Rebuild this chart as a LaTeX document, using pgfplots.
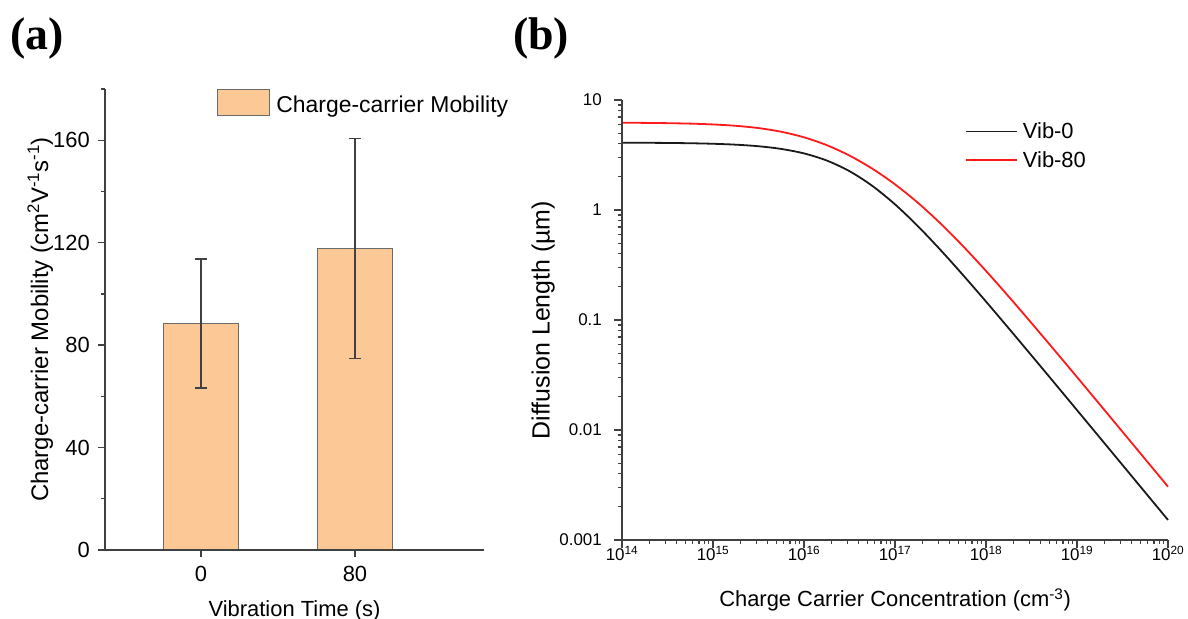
\documentclass[border=0pt]{standalone}
\usepackage{fontspec}
\setmainfont{Liberation Sans}
\newfontfamily\panelfont{Liberation Serif}
\usepackage{pgfplots}
\usepackage{pgfplotstable}
\pgfplotsset{compat=1.18}
\definecolor{barfill}{HTML}{FBC896}
\definecolor{baredge}{HTML}{6A6A6A}
\definecolor{axgray}{HTML}{404040}
\definecolor{curveblack}{HTML}{1A1A1A}
\definecolor{curvered}{HTML}{FF1A1A}
\newcommand{\fs}[1]{\fontsize{#1}{#1}\selectfont}

\pgfplotstableread{
n          vib0      vib80
1e14       4.092     6.214
1.778e14   4.084     6.195
3.162e14   4.070     6.158
5.623e14   4.045     6.099
1e15       4.001     5.997
1.778e15   3.926     5.827
3.162e15   3.799     5.555
5.623e15   3.591     5.143
1e16       3.269     4.580
1.778e16   2.817     3.886
3.162e16   2.254     3.124
5.623e16   1.658     2.376
1e17       1.125     1.711
1.778e17   0.7147    1.166
3.162e17   0.4331    0.7542
5.623e17   0.2547    0.4668
1e18       0.1470    0.2792
1.778e18   0.08389   0.1631
3.162e18   0.04756   0.09374
5.623e18   0.02688   0.05340
1e19       0.01515   0.03026
1.778e19   0.008535  0.01708
3.162e19   0.004802  0.009630
5.623e19   0.002702  0.005422
1e20       0.001520  0.003051
}\diffdata

\begin{document}
\begin{tikzpicture}[x=1bp,y=1bp]
\useasboundingbox (0,0) rectangle (1188,619);
\node[anchor=base west, inner sep=0pt, font=\panelfont\bfseries\fs{46}] at (10,569) {(a)};
\node[anchor=base west, inner sep=0pt, font=\panelfont\bfseries\fs{46}] at (513,569) {(b)};

% ---------------- left: bar chart ----------------
\begin{axis}[
  at={(105bp,69bp)}, anchor=south west,
  width=379bp, height=461bp, scale only axis,
  xmin=-0.623, xmax=1.838, ymin=0, ymax=180,
  axis line style={draw=none},
  tick pos=left, tick align=outside,
  xtick={0,1}, xticklabels={0,80},
  ytick={0,40,80,120,160}, minor ytick={20,60,100,140,180},
  major tick length=7bp, minor tick length=4bp,
  every tick/.style={axgray, line width=1.3bp},
  /pgf/number format/assume math mode=true,
  tick label style={font=\fs{22}, inner sep=0pt},
  xticklabel style={anchor=base, yshift=-24.7bp},
  yticklabel style={anchor=east, xshift=-8bp},
  xlabel={Vibration Time (s)},
  ylabel={Charge-carrier Mobility (cm\textsuperscript{2}V\textsuperscript{-1}s\textsuperscript{-1})},
  xlabel style={font=\fs{22}, at={(axis description cs:0.5,0)}, anchor=base, yshift=-66.7bp, inner sep=0pt},
  ylabel style={font=\fs{24}, at={(axis description cs:0,0.5)}, anchor=base, yshift=57bp, inner sep=0pt},
  legend style={draw=none, fill=none, at={(0.2955,1.0)}, anchor=north west, inner sep=0pt, font=\fs{23},
    /tikz/every odd column/.append style={column sep=4bp}},
  legend cell align=left,
  legend image code/.code={\draw[fill=barfill, draw=baredge, line width=1.2bp] (0bp,-11bp) rectangle (52bp,15bp);},
  clip=false
]
\addplot[ybar, bar width=0.49, fill=barfill, draw=baredge, line width=1.2bp,
  error bars/.cd, y dir=both, y explicit,
  error bar style={line width=1.5bp, color=axgray},
  error mark options={rotate=90, mark size=6bp, line width=1.5bp, axgray}]
  coordinates {(0,88.5) +- (0,25.2) (1,117.7) +- (0,43.0)};
\addlegendentry{Charge-carrier Mobility}
\draw[axgray, line width=1.8bp] (rel axis cs:0,1) -- (rel axis cs:0,0) -- (rel axis cs:1,0);
\end{axis}

% ---------------- right: diffusion length ----------------
\begin{axis}[
  at={(622bp,79bp)}, anchor=south west,
  width=546bp, height=440bp, scale only axis,
  xmode=log, ymode=log,
  xmin=1e14, xmax=1e20, ymin=1e-3, ymax=10,
  axis line style={draw=none},
  tick pos=left, tick align=outside,
  xtick={1e14,1e15,1e16,1e17,1e18,1e19,1e20},
  xticklabels={10\textsuperscript{14},10\textsuperscript{15},10\textsuperscript{16},10\textsuperscript{17},10\textsuperscript{18},10\textsuperscript{19},10\textsuperscript{20}},
  minor xtick={2e14,3e14,4e14,5e14,6e14,7e14,8e14,9e14,
               2e15,3e15,4e15,5e15,6e15,7e15,8e15,9e15,
               2e16,3e16,4e16,5e16,6e16,7e16,8e16,9e16,
               2e17,3e17,4e17,5e17,6e17,7e17,8e17,9e17,
               2e18,3e18,4e18,5e18,6e18,7e18,8e18,9e18,
               2e19,3e19,4e19,5e19,6e19,7e19,8e19,9e19},
  ytick={0.001,0.01,0.1,1,10},
  yticklabels={0.001,0.01,0.1,1,10},
  minor ytick={0.002,0.003,0.004,0.005,0.006,0.007,0.008,0.009,
               0.02,0.03,0.04,0.05,0.06,0.07,0.08,0.09,
               0.2,0.3,0.4,0.5,0.6,0.7,0.8,0.9,
               2,3,4,5,6,7,8,9},
  major tick length=8bp, minor tick length=4bp,
  every tick/.style={axgray, line width=1.2bp},
  tick label style={font=\fs{17}, inner sep=0pt},
  xticklabel style={anchor=base, yshift=-13bp},
  yticklabel style={anchor=east, xshift=-12bp},
  xlabel={Charge Carrier Concentration (cm\textsuperscript{-3})},
  ylabel={Diffusion Length (\textmu m)},
  xlabel style={font=\fs{22}, at={(axis description cs:0.5,0)}, anchor=base, yshift=-66.7bp, inner sep=0pt},
  ylabel style={font=\fs{25}, at={(axis description cs:0,0.5)}, anchor=base, yshift=72.5bp, inner sep=0pt},
  legend style={draw=none, fill=none, at={(0.628,0.953)}, anchor=north west, inner sep=0pt, font=\fs{22},
    row sep=7bp, /tikz/every odd column/.append style={column sep=3bp}},
  legend cell align=left,
  legend image code/.code={\draw[#1] (0bp,0bp) -- (51bp,0bp);},
  clip=false
]
\addplot[curveblack, line width=1.8bp, smooth] table[x=n, y=vib0] {\diffdata};
\addlegendentry{Vib-0}
\addplot[curvered, line width=1.8bp, smooth] table[x=n, y=vib80] {\diffdata};
\addlegendentry{Vib-80}
\draw[axgray, line width=1.8bp] (rel axis cs:0,1) -- (rel axis cs:0,0) -- (rel axis cs:1,0);
\end{axis}
\end{tikzpicture}
\end{document}
